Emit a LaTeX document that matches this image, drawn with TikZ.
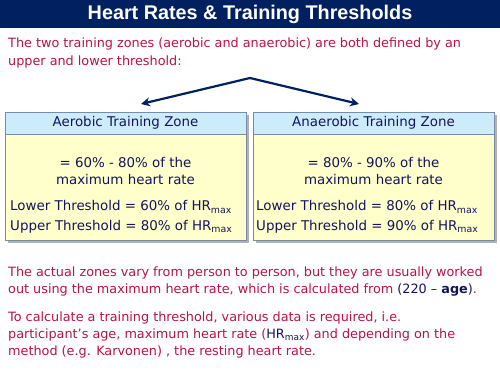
\documentclass[tikz,border=0pt]{standalone}
\usepackage{fontspec}
\setmainfont{DejaVu Sans}
\newfontfamily\titlefont{Liberation Sans}
\usetikzlibrary{arrows.meta}
\definecolor{navy}{RGB}{0,32,96}
\definecolor{crim}{RGB}{185,20,70}
\definecolor{boxtxt}{RGB}{20,20,90}
\definecolor{hdrblue}{RGB}{204,236,252}
\definecolor{bodyyel}{RGB}{255,255,204}
\definecolor{boxedge}{RGB}{120,140,170}
\tikzset{
  x=1pt,y=-1pt,
  para/.style={anchor=west,inner sep=0pt,text=crim,font=\fontsize{12.8}{14}\selectfont},
  boxline/.style={anchor=west,inner sep=0pt,text=boxtxt,font=\fontsize{13.4}{15}\selectfont},
  centreline/.style={anchor=center,inner sep=0pt,text=boxtxt,font=\fontsize{13.4}{15}\selectfont},
  hdr/.style={draw=boxedge,fill=hdrblue,line width=0.8pt},
  body/.style={draw=boxedge,fill=bodyyel,line width=0.8pt},
  shadow/.style={fill=black!30},
  conn/.style={draw=navy,line width=2.2pt,-{Stealth[length=9pt,width=9pt]}}
}
\newcommand{\hrm}{HR\textsubscript{max}}
\begin{document}
\begin{tikzpicture}
\useasboundingbox (0,0) rectangle (500,375);
\fill[white] (0,0) rectangle (500,375);
% title bar
\fill[navy] (0,0) rectangle (500,28);
\node[text=white,font=\titlefont\bfseries\fontsize{19.8}{22}\selectfont] (title) at (250,14.5) {Heart Rates \& Training Thresholds};
% intro
\node[para] (intro1) at (8,44) {The two training zones (aerobic and anaerobic) are both defined by an};
\node[para] (intro2) at (8,62) {upper and lower threshold:};
% arrows
\coordinate (apex) at (250,78);
\coordinate (la) at (141,104);
\coordinate (ra) at (359,104);
\draw[conn] (apex) -- (la);
\draw[conn] (apex) -- (ra);
% left box
\fill[shadow] (8,115) rectangle (249,243);
\draw[body] (5,134) rectangle (246,240);
\draw[hdr] (5,112) rectangle (246,134);
\node[centreline] (lh) at (125.5,123) {Aerobic Training Zone};
\node[centreline] (l1) at (125.5,163) {= 60\% - 80\% of the};
\node[centreline] (l2) at (125.5,180) {maximum heart rate};
\node[boxline] (l3) at (10,207) {Lower Threshold = 60\% of \hrm};
\node[boxline] (l4) at (10,227) {Upper Threshold = 80\% of \hrm};
% right box
\fill[shadow] (256,115) rectangle (497,243);
\draw[body] (253,134) rectangle (494,240);
\draw[hdr] (253,112) rectangle (494,134);
\node[centreline] (rh) at (373.5,123) {Anaerobic Training Zone};
\node[centreline] (r1) at (373.5,163) {= 80\% - 90\% of the};
\node[centreline] (r2) at (373.5,180) {maximum heart rate};
\node[boxline] (r3) at (256,207) {Lower Threshold = 80\% of \hrm};
\node[boxline] (r4) at (256,227) {Upper Threshold = 90\% of \hrm};
% bottom paragraphs
\node[para] (p1) at (8,273) {The actual zones vary from person to person, but they are usually worked};
\node[para] (p2) at (8,290) {out using the maximum heart rate, which is calculated from \textcolor{boxtxt}{(220 – \textbf{age})}.};
\node[para] (p3) at (8,318) {To calculate a training threshold, various data is required, i.e.};
\node[para] (p4) at (8,335) {participant's age, maximum heart rate (\textcolor{boxtxt}{\hrm}) and depending on the};
\node[para] (p5) at (8,352) {method (e.g. Karvonen) , the resting heart rate.};
\end{tikzpicture}
\end{document}
